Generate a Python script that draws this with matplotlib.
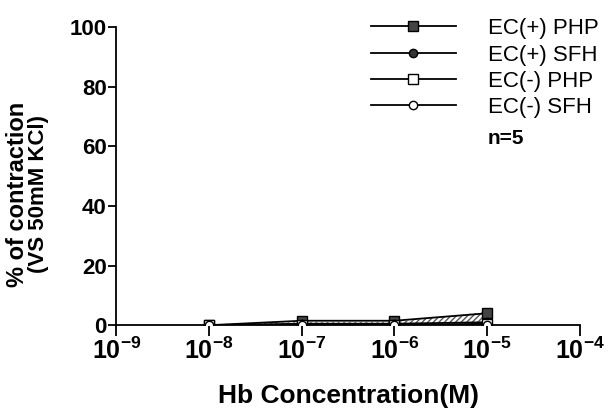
import matplotlib.pyplot as plt
from matplotlib.lines import Line2D

plt.rcParams['font.family'] = ['Liberation Sans', 'DejaVu Sans']
plt.rcParams['mathtext.fontset'] = 'custom'
plt.rcParams['mathtext.rm'] = 'Liberation Sans:bold'
plt.rcParams['mathtext.bf'] = 'Liberation Sans:bold'

conc = [1e-8, 1e-7, 1e-6, 1e-5]
ec_pos_php = [0.0, 1.5, 1.5, 4.0]
ec_pos_sfh = [0.0, 0.5, 0.5, 1.0]
ec_neg_php = [0.0, 0.0, 0.0, 0.5]
ec_neg_sfh = [0.0, 0.0, 0.0, 0.0]
err_upper = [0.3, 1.0, 1.0, 4.5]
err_lower = [-0.5, -0.8, -1.2, -1.5]

xticks = [1e-9, 1e-8, 1e-7, 1e-6, 1e-5, 1e-4]
xlabels = [r'$10^{-9}$', r'$10^{-8}$', r'$10^{-7}$', r'$10^{-6}$', r'$10^{-5}$', r'$10^{-4}$']
yticks = [0, 20, 40, 60, 80, 100]

fig = plt.figure(figsize=(6.15, 4.18), dpi=100)
ax = fig.add_axes([0.189, 0.222, 0.754, 0.713])

# hatched band for the error spread
ax.fill_between(conc, err_lower, err_upper, facecolor='white', edgecolor='#555555',
                hatch='//////', linewidth=0, zorder=1)

ax.plot(conc, ec_pos_php, color='black', lw=1.3, marker='s', ms=7,
        mfc='#444444', mec='black', zorder=3)
ax.plot(conc, ec_pos_sfh, color='black', lw=1.3, marker='o', ms=6,
        mfc='#333333', mec='black', zorder=3)
ax.plot(conc, ec_neg_php, color='black', lw=1.3, marker='s', ms=7,
        mfc='white', mec='black', zorder=4)
ax.plot(conc, ec_neg_sfh, color='black', lw=1.3, marker='o', ms=6,
        mfc='white', mec='black', zorder=5)

ax.set_xscale('log')
ax.set_xlim(1e-9, 1e-4)
ax.set_ylim(0, 100)
ax.set_xticks(xticks)
ax.set_xticklabels(xlabels, fontsize=18)
ax.minorticks_off()
ax.set_yticks(yticks)
ax.set_yticklabels([str(v) for v in yticks], fontsize=16, fontweight='bold')
ax.tick_params(axis='y', direction='out', length=6, width=1.3, pad=1)
ax.tick_params(axis='x', direction='out', length=8, width=1.3, pad=1)

for s in ['top', 'right']:
    ax.spines[s].set_visible(False)
for s in ['left', 'bottom']:
    ax.spines[s].set_linewidth(1.3)

ax.set_xlabel('Hb Concentration(M)', fontsize=19, fontweight='bold', labelpad=14)
fig.text(0.029, 0.535, '% of contraction', rotation=90, fontsize=17,
         fontweight='bold', ha='center', va='center')
fig.text(0.063, 0.535, '(VS 50mM KCl)', rotation=90, fontsize=16,
         fontweight='bold', ha='center', va='center')

handles = [
    Line2D([], [], color='black', lw=1.3, marker='s', ms=7, mfc='#444444', mec='black'),
    Line2D([], [], color='black', lw=1.3, marker='o', ms=6, mfc='#333333', mec='black'),
    Line2D([], [], color='black', lw=1.3, marker='s', ms=7, mfc='white', mec='black'),
    Line2D([], [], color='black', lw=1.3, marker='o', ms=6, mfc='white', mec='black'),
]
labels = ['EC(+) PHP', 'EC(+) SFH', 'EC(-) PHP', 'EC(-) SFH']
leg = ax.legend(handles, labels, loc='upper left', bbox_to_anchor=(0.55, 1.03),
                frameon=False, handlelength=3.8, handletextpad=1.45,
                labelspacing=0.24, fontsize=16, borderpad=0, borderaxespad=0)
ax.text(0.80, 0.625, 'n=5', transform=ax.transAxes, fontsize=15,
        fontweight='bold', va='center')

fig.savefig('out.png', dpi=100)
